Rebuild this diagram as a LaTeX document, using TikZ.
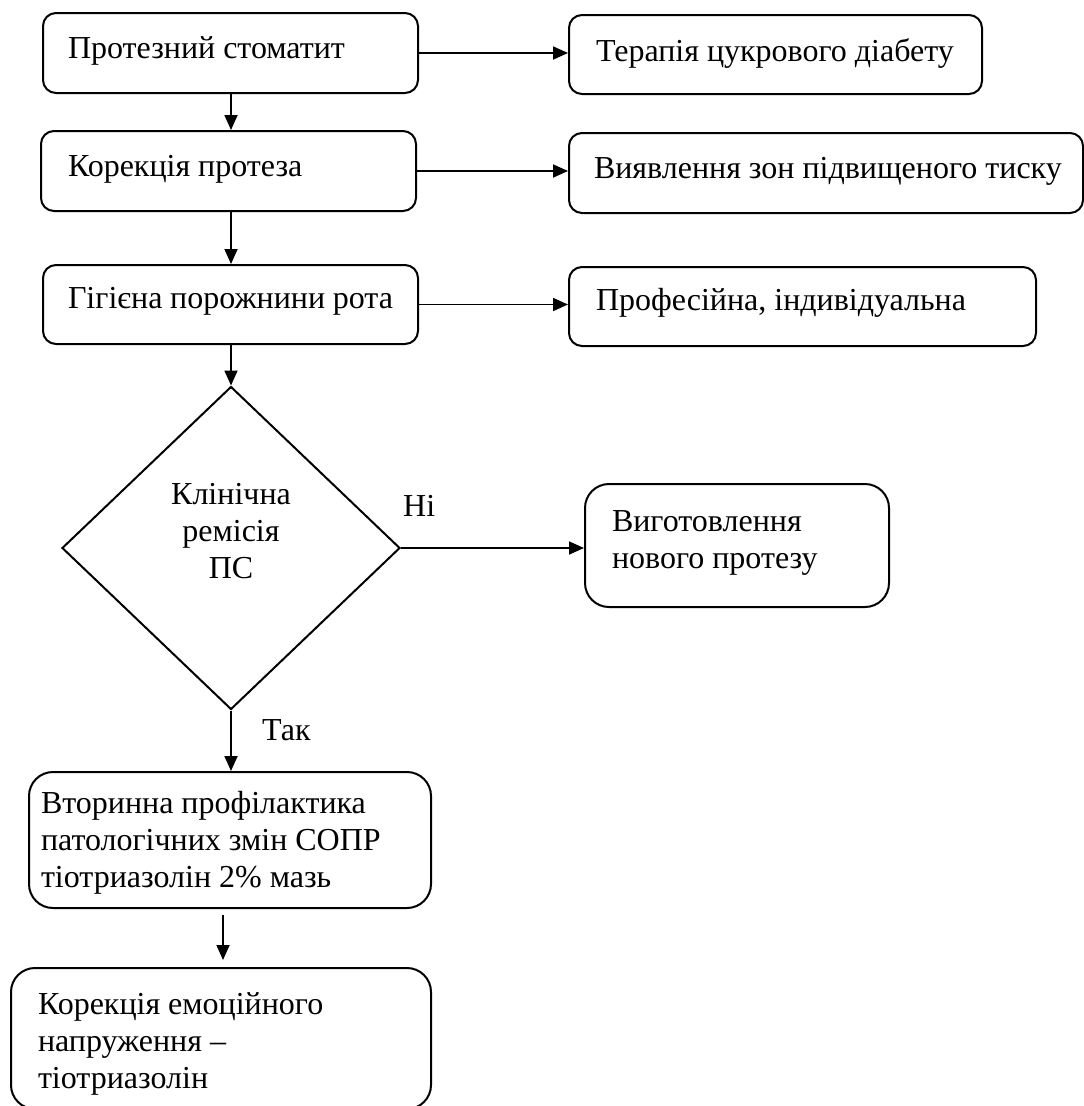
\documentclass[tikz,border=0pt]{standalone}
\usepackage{fontspec}
\setmainfont{Liberation Serif}
\usetikzlibrary{shapes.geometric,arrows.meta,calc}
\newcommand{\bt}[4]{\parbox[c][#1][t]{#2}{\raggedright\rule{0pt}{#3}#4}}
\begin{document}
\begin{tikzpicture}[x=1pt,y=-1pt,
  every node/.style={font=\fontsize{32}{37}\selectfont},
  box/.style={draw, line width=2pt, rounded corners=13pt, anchor=north west, inner ysep=0pt},
  bigbox/.style={box, rounded corners=24pt},
  arr/.style={line width=1.8pt, -{Triangle[length=15pt,width=13pt]}},
  ]
\clip (0,0) rectangle (1084,1106);
\node[box, minimum width=375, minimum height=80, inner xsep=25] (a) at (42,12) {\bt{80pt}{325pt}{45pt}{Протезний стоматит}};
\node[box, minimum width=413, minimum height=79, inner xsep=27] (r1) at (568,14) {\bt{79pt}{359pt}{46pt}{Терапія цукрового діабету}};
\node[box, minimum width=375, minimum height=80, inner xsep=27] (b) at (40,130) {\bt{80pt}{321pt}{45pt}{Корекція протеза}};
\node[box, minimum width=514, minimum height=80, inner xsep=25] (r2) at (568,132) {\bt{80pt}{464pt}{45pt}{\mbox{Виявлення зон підвищеного тиску}}};
\node[box, minimum width=375, minimum height=79, inner xsep=25] (c) at (42,264) {\bt{79pt}{325pt}{43pt}{Гігієна порожнини рота}};
\node[box, minimum width=467, minimum height=79, inner xsep=27] (r3) at (568,266) {\bt{79pt}{413pt}{43pt}{Професійна, індивідуальна}};
\node[diamond, draw, line width=2pt, minimum width=338, minimum height=323, inner sep=0pt, align=center] (d) at (231,548) {Клінічна\\ремісія\\ПС\rule[-34pt]{0pt}{0pt}};
\node[bigbox, minimum width=304, minimum height=123, inner xsep=27] (r4) at (584,483) {\bt{123pt}{250pt}{47pt}{Виготовлення\\нового протезу}};
\node[bigbox, minimum width=402, minimum height=136, inner xsep=12] (e) at (28,771) {\bt{136pt}{378pt}{41pt}{Вторинна профілактика\\патологічних змін СОПР\\тіотриазолін 2\% мазь}};
\node[bigbox, minimum width=420, minimum height=141, inner xsep=27] (f) at (10,967) {\bt{141pt}{366pt}{46pt}{Корекція емоційного\\напруження –\\тіотриазолін}};
\node[anchor=base west, inner sep=0pt] (ni) at (403,516) {Ні};
\node[anchor=base west, inner sep=0pt] (tak) at (262,740) {Так};
\draw[arr] (a.east) -- (a.east -| r1.west);
\draw[arr] (b.east) -- (b.east -| r2.west);
\draw[arr] (c.east) -- (c.east -| r3.west);
\draw[arr] (a.south -| d.north) -- (b.north -| d.north);
\draw[arr] (b.south -| d.north) -- (c.north -| d.north);
\draw[arr] (c.south -| d.north) -- (d.north);
\draw[arr] (d.east) -- (d.east -| r4.west);
\draw[arr] (d.south) -- (e.north -| d.south);
\draw[arr, shorten <=6pt, shorten >=7pt] ([xshift=-7pt]e.south) -- ([xshift=-7pt]e.south |- f.north);
\end{tikzpicture}
\end{document}
